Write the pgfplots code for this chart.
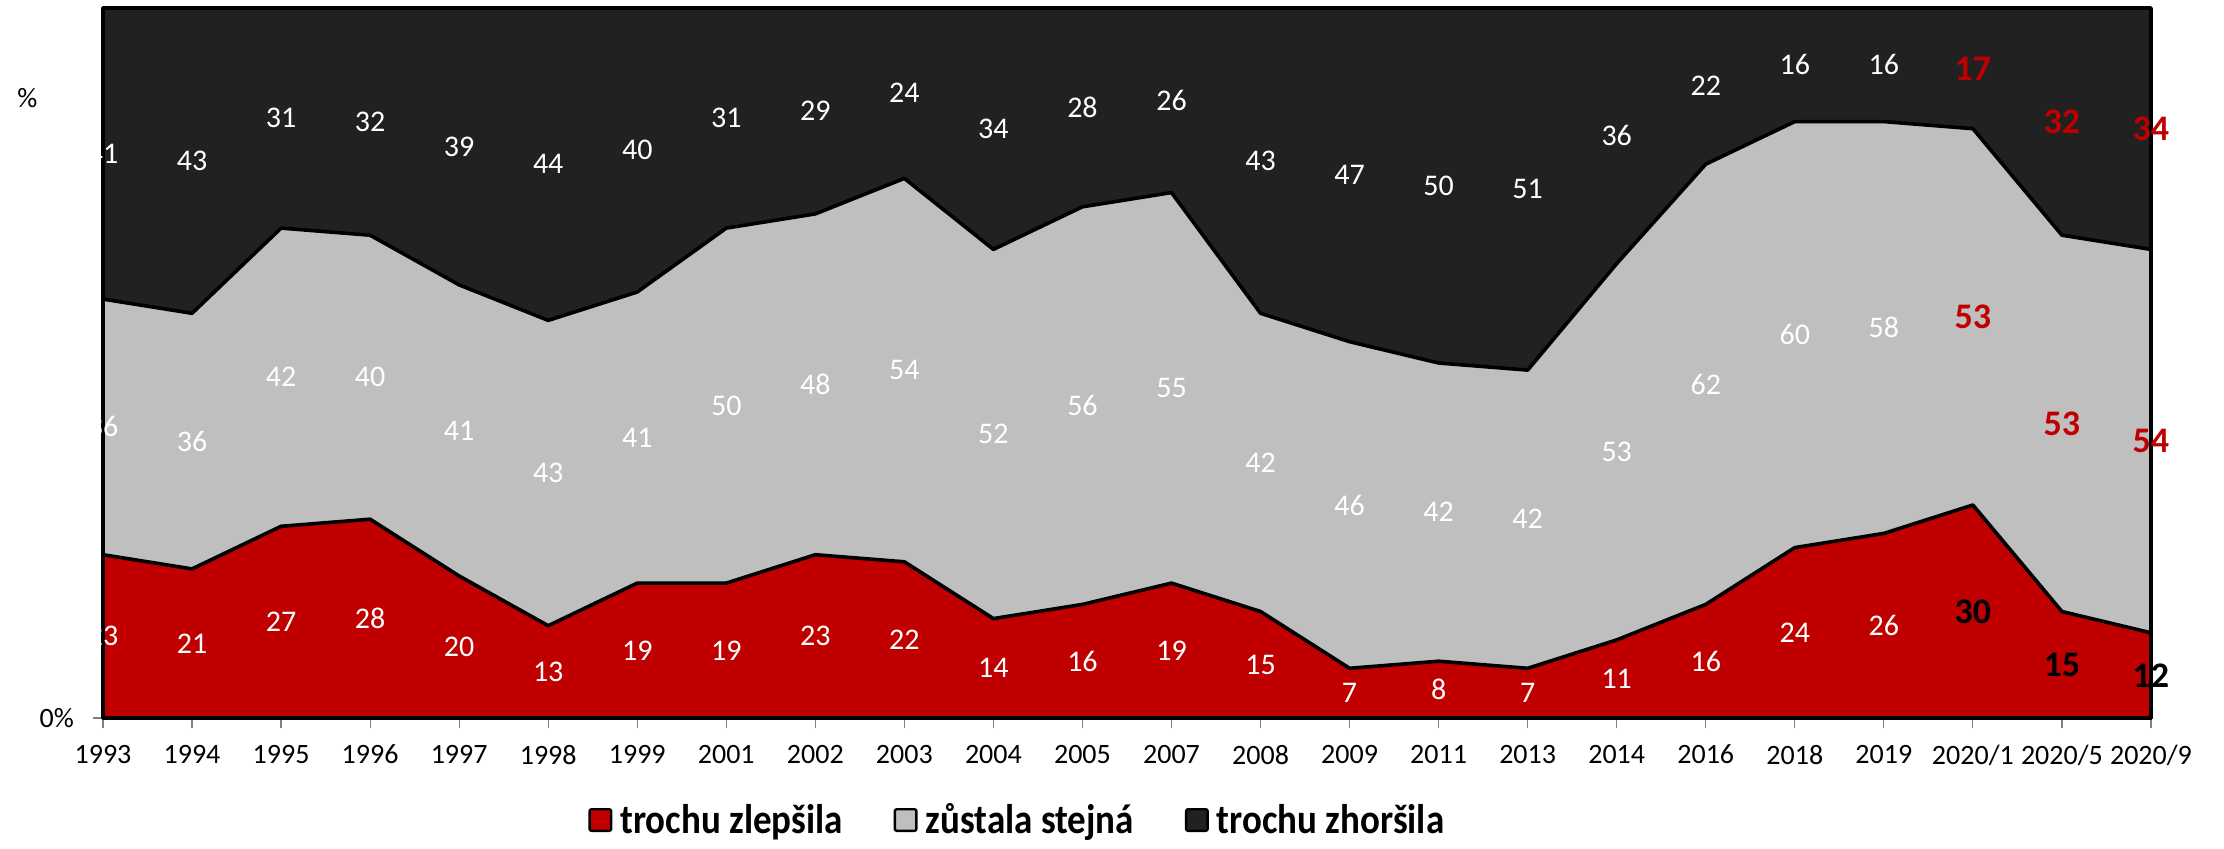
\documentclass[border=0pt]{standalone}
\usepackage{fontspec}
\setmainfont{Carlito}
\usepackage{graphicx}
\usepackage{pgfplots}
\usepackage{pgfplotstable}
\pgfplotsset{compat=1.18}
\definecolor{cRed}{HTML}{C00000}
\definecolor{cGrey}{HTML}{BFBFBF}
\definecolor{cBlack}{HTML}{212121}
\pgfplotstableread{
i z s h
0 23 36 41
1 21 36 43
2 27 42 31
3 28 40 32
4 20 41 39
5 13 43 44
6 19 41 40
7 19 50 31
8 23 48 29
9 22 54 24
10 14 52 34
11 16 56 28
12 19 55 26
13 15 42 43
14 7 46 47
15 8 42 50
16 7 42 51
17 11 53 36
18 16 62 22
19 24 60 16
20 26 58 16
21 30 53 17
22 15 53 32
23 12 54 34
}\data
\begin{document}
\begin{tikzpicture}
\useasboundingbox (0,0) rectangle (1112pt,424pt);
\begin{axis}[
 at={(51.5pt,65pt)}, anchor=south west,
 scale only axis, width=1024pt, height=355pt,
 xmin=0, xmax=23, ymin=0, ymax=100,
 clip=false,
 xtick={0,...,23},
 xticklabels={1993,1994,1995,1996,1997,1998,1999,2001,2002,2003,2004,2005,2007,2008,2009,2011,2013,2014,2016,2018,2019,2020/1,2020/5,2020/9},
 ytick={0}, yticklabels={0\%},
 tick align=outside, xtick pos=bottom, ytick pos=left,
 major tick length=5pt,
 tick style={gray, line width=0.6pt},
 axis line style={gray!60, line width=0.6pt},
 tick label style={font=\fontsize{14}{16}\selectfont},
 xticklabel style={yshift=-5pt},
 yticklabel style={xshift=-6pt},
 /pgf/number format/assume math mode=true,
 ylabel={\%},
 ylabel style={rotate=-90, at={(axis description cs:-0.0369,0.8725)}, anchor=center, font=\fontsize{14}{16}\selectfont},
 legend columns=3, reverse legend,
 legend style={at={(axis description cs:0.2368,-0.1437)}, anchor=west, draw=none, inner sep=0pt,
   font=\bfseries\fontsize{18.5}{20}\selectfont,
   /tikz/every odd column/.append style={column sep=2.5pt},
   /tikz/every even column/.append style={column sep=24pt},
   nodes={inner sep=1.5pt}},
 legend image code/.code={\draw[#1,draw=black,line width=1.2pt,rounded corners=1pt] (0.6pt,-5.4pt) rectangle (11.4pt,5.4pt);},
]
\addplot[fill=cBlack, draw=black, line width=1.8pt, line join=round] table[x=i, y expr=\thisrow{z}+\thisrow{s}+\thisrow{h}] {\data} \closedcycle;
\addlegendentry{\scalebox{1}[1.12]{trochu zhoršila}}
\addplot[fill=cGrey, draw=black, line width=1.8pt, line join=round] table[x=i, y expr=\thisrow{z}+\thisrow{s}] {\data} \closedcycle;
\addlegendentry{\scalebox{1}[1.12]{zůstala stejná}}
\addplot[fill=cRed, draw=black, line width=1.8pt, line join=round] table[x=i, y=z] {\data} \closedcycle;
\addlegendentry{\scalebox{1}[1.12]{trochu zlepšila}}
% white labels
\addplot[forget plot, draw=none, nodes near coords, point meta=explicit, restrict x to domain=0:20,
  nodes near coords style={text=white, anchor=center, font=\fontsize{15}{18}\selectfont}]
  table[x=i, y expr=\thisrow{z}/2, meta=z] {\data};
\addplot[forget plot, draw=none, nodes near coords, point meta=explicit, restrict x to domain=0:20,
  nodes near coords style={text=white, anchor=center, font=\fontsize{15}{18}\selectfont}]
  table[x=i, y expr=\thisrow{z}+\thisrow{s}/2, meta=s] {\data};
\addplot[forget plot, draw=none, nodes near coords, point meta=explicit, restrict x to domain=0:20,
  nodes near coords style={text=white, anchor=center, font=\fontsize{15}{18}\selectfont}]
  table[x=i, y expr=\thisrow{z}+\thisrow{s}+\thisrow{h}/2, meta=h] {\data};
% highlighted labels
\addplot[forget plot, draw=none, nodes near coords, point meta=explicit, restrict x to domain=21:23,
  nodes near coords style={text=black, anchor=center, font=\bfseries\fontsize{18}{20}\selectfont}]
  table[x=i, y expr=\thisrow{z}/2, meta=z] {\data};
\addplot[forget plot, draw=none, nodes near coords, point meta=explicit, restrict x to domain=21:23,
  nodes near coords style={text=cRed, anchor=center, font=\bfseries\fontsize{18}{20}\selectfont}]
  table[x=i, y expr=\thisrow{z}+\thisrow{s}/2, meta=s] {\data};
\addplot[forget plot, draw=none, nodes near coords, point meta=explicit, restrict x to domain=21:23,
  nodes near coords style={text=cRed, anchor=center, font=\bfseries\fontsize{18}{20}\selectfont}]
  table[x=i, y expr=\thisrow{z}+\thisrow{s}+\thisrow{h}/2, meta=h] {\data};
\end{axis}
\end{tikzpicture}
\end{document}
